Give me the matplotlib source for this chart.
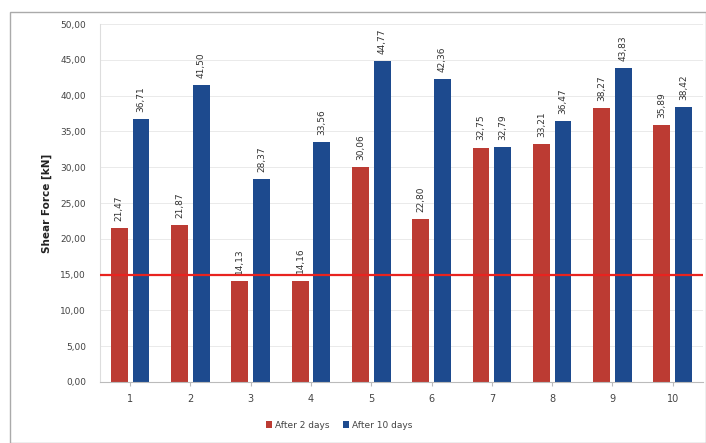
import matplotlib
matplotlib.use("Agg")
import matplotlib.pyplot as plt
import numpy as np
from matplotlib.patches import Rectangle

categories = ["1", "2", "3", "4", "5", "6", "7", "8", "9", "10"]
after_2_days = [21.47, 21.87, 14.13, 14.16, 30.06, 22.80, 32.75, 33.21, 38.27, 35.89]
after_10_days = [36.71, 41.50, 28.37, 33.56, 44.77, 42.36, 32.79, 36.47, 43.83, 38.42]
threshold = 15.0
yticks = [0, 5, 10, 15, 20, 25, 30, 35, 40, 45, 50]

red = "#BC3B33"
blue = "#1D4A8E"

fig = plt.figure(figsize=(7.06, 4.43), dpi=100)
ax = fig.add_axes([0.1416, 0.1377, 0.854, 0.808])

x = np.arange(len(categories))
w = 0.28
off = 0.18
b1 = ax.bar(x - off, after_2_days, w, color=red, label="After 2 days", zorder=2)
b2 = ax.bar(x + off, after_10_days, w, color=blue, label="After 10 days", zorder=2)

def fmt(v):
    return f"{v:.2f}".replace(".", ",")

for bars, vals in ((b1, after_2_days), (b2, after_10_days)):
    for r, v in zip(bars, vals):
        ax.text(r.get_x() + r.get_width() / 2, v + 1.0, fmt(v), rotation=90,
                ha="center", va="bottom", fontsize=6.5, color="#333333", zorder=3)

ax.axhline(threshold, color="#E8231F", lw=1.6, zorder=4)

ax.set_xlim(-0.5, len(categories) - 0.5)
ax.set_ylim(0, 50)
ax.set_yticks(yticks)
ax.set_yticklabels([fmt(v) for v in yticks], fontsize=6.5, color="#444444")
ax.set_xticks(x)
ax.set_xticklabels(categories, fontsize=7, color="#444444")
ax.tick_params(axis="y", length=0, pad=10)
ax.tick_params(axis="x", length=3, color="#BBBBBB", pad=6)
ax.yaxis.grid(True, color="#E6E6E6", lw=0.6, zorder=0)
ax.set_axisbelow(True)
for s in ("top", "right"):
    ax.spines[s].set_visible(False)
ax.spines["left"].set_color("#DDDDDD")
ax.spines["bottom"].set_color("#BBBBBB")
ax.set_ylabel("Shear Force [kN]", fontsize=7.5, fontweight="bold", color="#222222", labelpad=6)

fig.legend(handles=[b1, b2], loc="center", bbox_to_anchor=(0.48, 0.04), ncol=2,
           frameon=False, fontsize=6.5, handlelength=0.7, handleheight=0.7,
           columnspacing=1.5, handletextpad=0.3, labelcolor="#444444")

fig.patches.append(Rectangle((10 / 706, 0.0), 1 - 10 / 706, 1 - 12 / 443,
                             transform=fig.transFigure, fill=False,
                             edgecolor="#AAAAAA", lw=1.0))

fig.savefig("out.png", dpi=100)
